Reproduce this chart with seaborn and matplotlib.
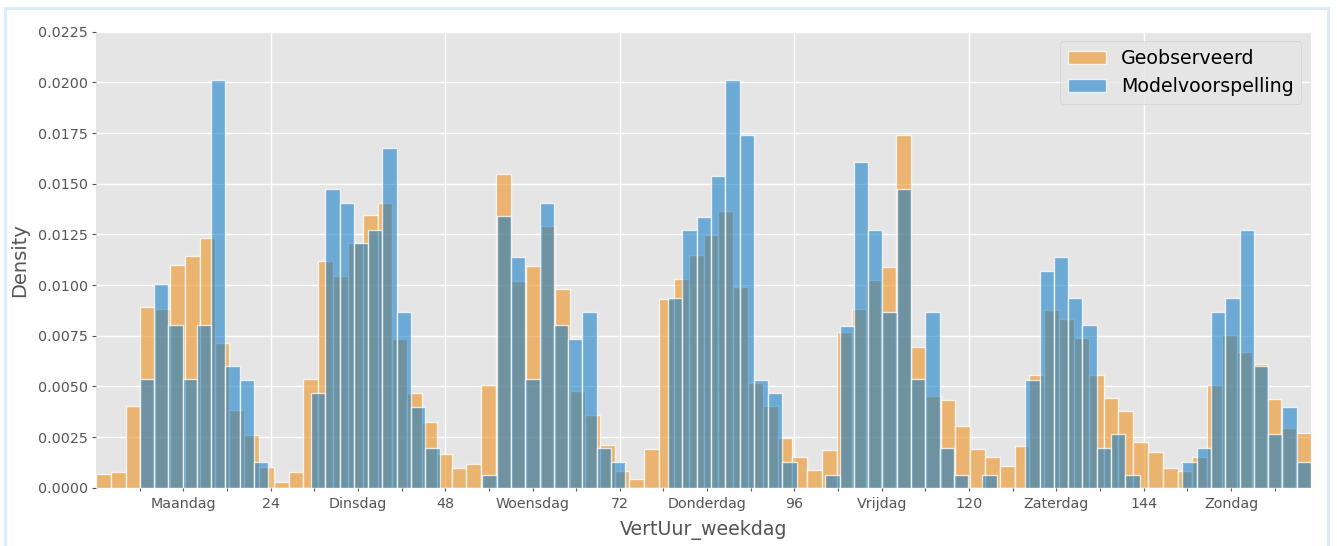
import numpy as np
import pandas as pd
import matplotlib
matplotlib.use("Agg")
import matplotlib.pyplot as plt
import seaborn as sns
from matplotlib.patches import Rectangle
from matplotlib.ticker import FixedLocator, FixedFormatter, FormatStrFormatter

# Hour-of-week ranges and number of bins for each histogram
obs_hour_range = (0, 167)
model_hour_range = (6, 167)
n_bins = 82

# Density per bin (observed)
geobserveerd = [
    0.00067, 0.00076, 0.00405, 0.00893, 0.00883, 0.01099, 0.01143, 0.01234, 0.00715, 0.00383,
    0.00260, 0.00104, 0.00030, 0.00076, 0.00538, 0.01118, 0.01044, 0.01206, 0.01345, 0.01406,
    0.00734, 0.00466, 0.00324, 0.00166, 0.00095, 0.00115, 0.00508, 0.01548, 0.01021, 0.01095,
    0.01291, 0.00979, 0.00479, 0.00360, 0.00210, 0.00084, 0.00041, 0.00190, 0.00933, 0.01030,
    0.01148, 0.01247, 0.01367, 0.00990, 0.00518, 0.00403, 0.00247, 0.00151, 0.00086, 0.00186,
    0.00766, 0.00883, 0.01025, 0.01090, 0.01738, 0.00696, 0.00452, 0.00434, 0.00306, 0.00189,
    0.00153, 0.00109, 0.00207, 0.00556, 0.00877, 0.00832, 0.00740, 0.00556, 0.00444, 0.00378,
    0.00226, 0.00174, 0.00098, 0.00082, 0.00153, 0.00508, 0.00753, 0.00671, 0.00610, 0.00439,
    0.00296, 0.00271,
]

# Density per bin (model prediction)
modelvoorspelling = [
    0.00535, 0.01003, 0.00801, 0.00535, 0.00801, 0.02011, 0.00600, 0.00533, 0.00128, 0.0,
    0.0, 0.0, 0.00466, 0.01474, 0.01406, 0.01206, 0.01273, 0.01674, 0.00867, 0.00396,
    0.00196, 0.0, 0.0, 0.0, 0.00064, 0.01340, 0.01137, 0.00535, 0.01406, 0.00803,
    0.00735, 0.00868, 0.00197, 0.00128, 0.0, 0.0, 0.0, 0.00936, 0.01271, 0.01337,
    0.01540, 0.02011, 0.01742, 0.00531, 0.00465, 0.00128, 0.0, 0.0, 0.00064, 0.00799,
    0.01609, 0.01273, 0.00868, 0.01474, 0.00535, 0.00867, 0.00197, 0.00064, 0.0, 0.00064,
    0.0, 0.0, 0.00533, 0.01069, 0.01137, 0.00936, 0.00801, 0.00197, 0.00265, 0.00064,
    0.0, 0.0, 0.0, 0.00128, 0.00197, 0.00868, 0.00936, 0.01271, 0.00600, 0.00263,
    0.00398, 0.00128,
]

day_names = ["Maandag", "Dinsdag", "Woensdag", "Donderdag", "Vrijdag", "Zaterdag", "Zondag"]
hour_ticks = [24, 48, 72, 96, 120, 144]
y_ticks = [0.0, 0.0025, 0.005, 0.0075, 0.01, 0.0125, 0.015, 0.0175, 0.02, 0.0225]

plt.style.use("ggplot")
plt.rcParams["font.family"] = ["DejaVu Sans"]

W, H = 1337, 546
fig = plt.figure(figsize=(W / 100, H / 100), dpi=100)
fig.patch.set_facecolor("white")
ax = fig.add_axes([96 / W, (H - 487.7) / H, (1311 - 96) / W, (487.7 - 31.7) / H])
ax.set_facecolor("#E5E5E5")


def bin_table(hour_range, values):
    edges = np.linspace(hour_range[0], hour_range[1], n_bins + 1)
    centers = (edges[:-1] + edges[1:]) / 2
    return pd.DataFrame({"uur": centers, "dichtheid": values})


obs_df = bin_table(obs_hour_range, geobserveerd)
model_df = bin_table(model_hour_range, modelvoorspelling)

bar_style = dict(alpha=0.55, edgecolor=(1, 1, 1, 0.75), linewidth=1.0)
sns.histplot(data=obs_df, x="uur", weights="dichtheid", bins=n_bins,
             binrange=obs_hour_range, stat="count",
             color="#F08A10", label="Geobserveerd", ax=ax, **bar_style)
sns.histplot(data=model_df, x="uur", weights="dichtheid", bins=n_bins,
             binrange=model_hour_range, stat="count",
             color="#0A78C8", label="Modelvoorspelling", ax=ax, **bar_style)

ax.set_xlim(obs_hour_range)
ax.set_ylim(y_ticks[0], y_ticks[-1])

# Major ticks: hour counts with vertical grid lines; minor ticks: weekday names
minor_ticks = [h for h in range(6, 168, 6) if h % 24 != 0]
minor_labels = [day_names[h // 24] if h % 24 == 12 else "" for h in minor_ticks]
ax.xaxis.set_major_locator(FixedLocator(hour_ticks))
ax.xaxis.set_major_formatter(FixedFormatter([str(h) for h in hour_ticks]))
ax.xaxis.set_minor_locator(FixedLocator(minor_ticks))
ax.xaxis.set_minor_formatter(FixedFormatter(minor_labels))
ax.set_yticks(y_ticks)
ax.yaxis.set_major_formatter(FormatStrFormatter("%.4f"))

ax.grid(True, which="major", color="white", linewidth=1.0)
ax.grid(False, which="minor")
ax.set_axisbelow(True)
ax.tick_params(axis="x", which="both", colors="#555555", labelsize=10.3,
               direction="out", length=2.0, width=0.8, pad=5, bottom=True)
ax.tick_params(axis="y", which="both", colors="#555555", labelsize=10.3,
               direction="out", length=3.0, width=0.8, pad=3, left=True)
for s in ax.spines.values():
    s.set_visible(False)

ax.set_xlabel("VertUur_weekdag", fontsize=13.7, color="#555555", labelpad=6)
ax.set_ylabel("Density", fontsize=14, color="#555555", labelpad=6)

ax.legend(loc="upper right", fontsize=13.7, frameon=True, facecolor="#E5E5E5",
          edgecolor="#CCCCCC", framealpha=0.8)

# Thin light-blue frame around the figure (open at the bottom edge)
fig.add_artist(Rectangle((4.5 / W, -0.02), (1328 - 4.5) / W, 1.02 - 8 / H,
                         transform=fig.transFigure, fill=False,
                         edgecolor="#DCEDF9", linewidth=2.2))

fig.savefig("out.png", dpi=100)
